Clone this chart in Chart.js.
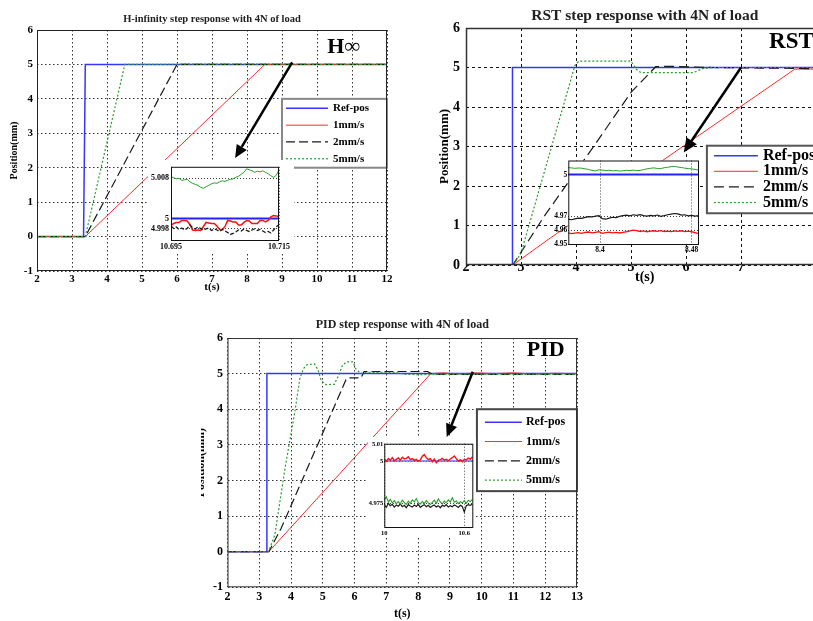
<!DOCTYPE html>
<html>
<head>
<meta charset="utf-8">
<script src="https://cdn.jsdelivr.net/npm/chart.js@4.4.1/dist/chart.umd.min.js"></script>
<style>
  html, body { margin: 0; padding: 0; background: #fff; overflow: hidden; }
  #page { position: relative; width: 813px; height: 621px; overflow: hidden; background: #fff; }
  canvas { position: absolute; }
  #pidWrap { position: absolute; left: 201px; top: 310px; width: 612px; height: 311px; overflow: hidden; }
</style>
</head>
<body>
<div id="page">
  <canvas id="hinf" width="422" height="300" style="left:0px;top:0px"></canvas>
  <canvas id="rst" width="434" height="290" style="left:426px;top:0px"></canvas>
  <div id="pidWrap"><canvas id="pid" width="423" height="311" style="left:-10px;top:0px"></canvas></div>
  <canvas id="hinfZoom" width="146" height="92" style="left:148px;top:160px"></canvas>
  <canvas id="rstZoom" width="155" height="102" style="left:548px;top:155px"></canvas>
  <canvas id="pidZoom" width="108" height="100" style="left:368px;top:437px"></canvas>
</div>
<script>
// H-infinity, main plot
const hinfRefT = [2, 3.33, 3.38, 12];
const hinfRefY = [0, 0, 5, 5];
const hinf1T = [2, 3.38, 8.51, 12];
const hinf1Y = [0, 0, 5, 5];
const hinf2T = [2, 3.38, 6.0, 12];
const hinf2Y = [0, 0, 5, 5];
const hinf5T = [2, 3.38, 4.51, 7.2, 12];
const hinf5Y = [0, 0, 5, 5.01, 5];

// RST, main plot
const rstRefT = [2, 2.84, 2.845, 8.5];
const rstRefY = [0, 0, 5, 5];
const rst1T = [2, 2.85, 3.53, 7.98, 8.5];
const rst1Y = [0, 0, 0.68, 4.96, 4.96];
const rst2T = [2, 2.85, 3.43, 4.31, 5.0, 5.45, 5.7, 6.5, 8.5];
const rst2Y = [0, 0, 1.25, 2.98, 4.37, 5.02, 5.03, 5.0, 4.97];
const rst5T = [2, 2.86, 3.0, 3.98, 4.05, 5.0, 5.1, 5.18, 6.13, 6.3, 6.5, 8.5];
const rst5Y = [0, 0, 0.3, 5.05, 5.16, 5.16, 4.95, 4.87, 4.87, 4.97, 5.0, 5.0];

// PID, main plot
const pidRefT = [2, 3.23, 3.24, 13];
const pidRefY = [0, 0, 5, 5];
const pid1T = [2, 3.3, 8.4, 8.8, 9.3, 9.8, 10.4, 11, 11.6, 12.3, 13];
const pid1Y = [0, 0, 5, 5.02, 4.99, 5.02, 5.0, 5.02, 4.99, 5.01, 5.0];
const pid2T = [2, 3.3, 3.69, 5.73, 5.8, 6.2, 6.3, 8.3, 8.45, 13];
const pid2Y = [0, 0, 0.66, 4.83, 4.88, 4.88, 5.06, 5.06, 4.98, 4.98];
const pid5T = [2, 3.29, 3.49, 3.81, 4.12, 4.28, 4.4, 4.5, 4.74, 4.85, 4.95, 5.1, 5.36, 5.5, 5.6, 5.73, 5.94, 6.05, 6.2, 6.4, 6.8, 7.2, 7.6, 8.0, 8.5, 13];
const pid5Y = [0, 0, 0.47, 2.34, 3.93, 4.87, 5.15, 5.25, 5.27, 5.1, 4.8, 4.69, 4.7, 4.95, 5.2, 5.33, 5.33, 5.12, 5.0, 5.04, 5.03, 5.04, 4.98, 4.97, 4.98, 4.98];

// zoomed insets
const hinfZoomT = [10.695, 10.6955, 10.696, 10.6965, 10.697, 10.6975, 10.698, 10.6985, 10.699, 10.6995,
  10.7, 10.7005, 10.701, 10.7015, 10.702, 10.7025, 10.703, 10.7035, 10.704, 10.7045,
  10.705, 10.7055, 10.706, 10.7065, 10.707, 10.7075, 10.708, 10.7085, 10.709, 10.7095,
  10.71, 10.7105, 10.711, 10.7115, 10.712, 10.7125, 10.713, 10.7135, 10.714, 10.7145, 10.715];
const hinfZoom1 = [4.9986, 4.9990, 4.9992, 4.9992, 4.9996, 4.9996, 4.9995, 4.9988, 4.9977, 4.9976,
  4.9977, 4.9976, 4.9984, 4.9992, 4.9991, 4.9990, 4.9990, 4.9985, 4.9978, 4.9978,
  4.9984, 4.9996, 4.9995, 4.9993, 4.9993, 4.9987, 4.9987, 4.9992, 4.9996, 4.9995,
  4.9990, 4.9990, 4.9990, 4.9996, 4.9996, 4.9993, 4.9996, 5.0003, 5.0006, 5.0005, 5.0004];
const hinfZoom2 = [4.9985, 4.9980, 4.9983, 4.9978, 4.9981, 4.9977, 4.9980, 4.9987, 4.9982, 4.9979,
  4.9983, 4.9980, 4.9977, 4.9979, 4.9981, 4.9976, 4.9979, 4.9977, 4.9974, 4.9978,
  4.9975, 4.9972, 4.9968, 4.9970, 4.9973, 4.9977, 4.9975, 4.9979, 4.9976, 4.9974,
  4.9977, 4.9979, 4.9976, 4.9978, 4.9975, 4.9972, 4.9974, 4.9971, 4.9977, 4.9983, 4.9988];
const hinfZoom5 = [5.0083, 5.0081, 5.0079, 5.0080, 5.0076, 5.0077, 5.0078, 5.0073, 5.0070, 5.0068,
  5.0066, 5.0062, 5.0060, 5.0063, 5.0066, 5.0069, 5.0071, 5.0070, 5.0073, 5.0075,
  5.0074, 5.0076, 5.0078, 5.0079, 5.0082, 5.0084, 5.0088, 5.0092, 5.0099, 5.0097,
  5.0095, 5.0092, 5.0094, 5.0093, 5.0095, 5.0092, 5.0089, 5.0085, 5.0082, 5.0086, 5.0097];
const hinfZoomRefT = [10.695, 10.715];
const hinfZoomRefY = [5, 5];

const rstZoomT = [8.372, 8.375, 8.378, 8.381, 8.384, 8.387, 8.39, 8.393, 8.396, 8.399,
  8.402, 8.405, 8.408, 8.411, 8.414, 8.417, 8.42, 8.423, 8.426, 8.429,
  8.432, 8.435, 8.438, 8.441, 8.444, 8.447, 8.45, 8.453, 8.456, 8.459,
  8.462, 8.465, 8.468, 8.471, 8.474, 8.477, 8.48, 8.483, 8.486];
const rstZoom1 = [4.9582, 4.9576, 4.9580, 4.9583, 4.9579, 4.9585, 4.9588, 4.9582, 4.9586, 4.9590,
  4.9578, 4.9583, 4.9587, 4.9582, 4.9585, 4.9581, 4.9586, 4.9590, 4.9596, 4.9602,
  4.9598, 4.9592, 4.9596, 4.9590, 4.9594, 4.9597, 4.9593, 4.9598, 4.9592, 4.9595,
  4.9591, 4.9596, 4.9593, 4.9597, 4.9591, 4.9594, 4.9590, 4.9583, 4.9576];
const rstZoom2 = [4.9680, 4.9676, 4.9682, 4.9688, 4.9686, 4.9693, 4.9698, 4.9696, 4.9702, 4.9705,
  4.9684, 4.9680, 4.9688, 4.9694, 4.9692, 4.9700, 4.9706, 4.9709, 4.9704, 4.9712,
  4.9708, 4.9713, 4.9706, 4.9702, 4.9708, 4.9704, 4.9710, 4.9701, 4.9706, 4.9712,
  4.9716, 4.9721, 4.9718, 4.9710, 4.9712, 4.9704, 4.9708, 4.9702, 4.9706];
const rstZoom5 = [5.0050, 5.0048, 5.0045, 5.0047, 5.0046, 5.0041, 5.0037, 5.0030, 5.0027, 5.0034,
  5.0032, 5.0029, 5.0031, 5.0027, 5.0029, 5.0025, 5.0027, 5.0031, 5.0028, 5.0032,
  5.0029, 5.0030, 5.0036, 5.0041, 5.0045, 5.0048, 5.0044, 5.0043, 5.0049, 5.0052,
  5.0057, 5.0059, 5.0054, 5.0051, 5.0046, 5.0043, 5.0041, 5.0037, 5.0032];
const rstZoomRefT = [8.372, 8.4864];
const rstZoomRefY = [5, 5];

const pidZoomT = [10, 10.015, 10.03, 10.045, 10.06, 10.075, 10.09, 10.105, 10.12, 10.135,
  10.15, 10.165, 10.18, 10.195, 10.21, 10.225, 10.24, 10.255, 10.27, 10.285,
  10.3, 10.315, 10.33, 10.345, 10.36, 10.375, 10.39, 10.405, 10.42, 10.435,
  10.45, 10.465, 10.48, 10.495, 10.51, 10.525, 10.54, 10.555, 10.57, 10.585,
  10.6, 10.615, 10.63, 10.645, 10.66];
const pidZoom1 = [5.0012, 4.9998, 5.0015, 5.0005, 5.0020, 5.0002, 5.0010, 5.0018, 5.0006, 5.0022,
  5.0012, 5.0016, 5.0025, 5.0008, 5.0014, 5.0004, 5.0010, 5.0000, 5.0006, 5.0028,
  5.0038, 5.0020, 5.0008, 5.0014, 4.9996, 5.0012, 4.9990, 5.0004, 5.0008, 5.0016,
  5.0006, 5.0010, 5.0002, 5.0012, 5.0020, 5.0030, 5.0014, 5.0000, 5.0008, 4.9996,
  5.0010, 5.0006, 5.0018, 5.0012, 5.0024];
const pidZoom2 = [4.9745, 4.9728, 4.9752, 4.9738, 4.9746, 4.9730, 4.9742, 4.9735, 4.9748, 4.9732,
  4.9740, 4.9726, 4.9744, 4.9736, 4.9730, 4.9742, 4.9734, 4.9746, 4.9728, 4.9738,
  4.9744, 4.9732, 4.9740, 4.9728, 4.9736, 4.9742, 4.9730, 4.9738, 4.9726, 4.9740,
  4.9734, 4.9744, 4.9730, 4.9738, 4.9732, 4.9742, 4.9736, 4.9728, 4.9740, 4.9734,
  4.9700, 4.9738, 4.9744, 4.9740, 4.9746];
const pidZoom5 = [4.9770, 4.9790, 4.9760, 4.9775, 4.9755, 4.9768, 4.9750, 4.9762, 4.9748, 4.9770,
  4.9758, 4.9745, 4.9765, 4.9752, 4.9772, 4.9760, 4.9780, 4.9756, 4.9748, 4.9762,
  4.9750, 4.9768, 4.9755, 4.9745, 4.9758, 4.9770, 4.9752, 4.9778, 4.9760, 4.9748,
  4.9765, 4.9755, 4.9772, 4.9760, 4.9784, 4.9758, 4.9766, 4.9750, 4.9762, 4.9755,
  4.9768, 4.9752, 4.9770, 4.9762, 4.9775];
const pidZoomRefT = [10, 10.6675];
const pidZoomRefY = [5, 5];

const SERIF = "'Liberation Serif', 'Times New Roman', serif";
const BLUE = "#3535ff";
const RED = "#ff2b2b";
const BLACK = "#1a1a1a";
const GREEN = "#2a9e2a";

Chart.defaults.font.family = SERIF;
Chart.defaults.color = "#000";
Chart.defaults.animation = false;
Chart.defaults.events = [];
Chart.defaults.plugins.legend.display = false;
Chart.defaults.plugins.tooltip.enabled = false;

function tocke(t, y) {
  return t.map((v, i) => ({ x: v, y: y[i] }));
}

function crta(label, t, y, color, width, dash, order) {
  return {
    label: label,
    data: tocke(t, y),
    borderColor: color,
    borderWidth: width,
    borderDash: dash,
    pointRadius: 0,
    tension: 0,
    fill: false,
    order: order,
  };
}

// frame, heading over the plot, in-plot legend, arrow and big tag
const extras = {
  id: "extras",
  beforeDraw(chart, args, o) {
    const ctx = chart.ctx;
    const a = chart.chartArea;
    ctx.save();
    ctx.fillStyle = "#fff";
    if (o.bg === "all") ctx.fillRect(0, 0, chart.width, chart.height);
    if (o.bg === "area") ctx.fillRect(a.left, a.top, a.right - a.left, a.bottom - a.top);
    ctx.restore();
  },
  afterDatasetsDraw(chart, args, o) {
    const ctx = chart.ctx;
    const a = chart.chartArea;
    const sx = chart.scales.x;
    const sy = chart.scales.y;
    ctx.save();

    if (o.heading) {
      ctx.font = "bold " + o.heading.size + "px " + SERIF;
      ctx.fillStyle = "#222";
      ctx.textAlign = "center";
      ctx.textBaseline = "middle";
      ctx.fillText(o.heading.text, (a.left + a.right) / 2, o.heading.y);
    }

    if (o.legend) {
      const lg = o.legend;
      const left = sx.getPixelForValue(lg.x1);
      const right = sx.getPixelForValue(lg.x2);
      const top = sy.getPixelForValue(lg.y2);
      const bottom = sy.getPixelForValue(lg.y1);
      ctx.fillStyle = "#fff";
      ctx.fillRect(left, top, right - left, bottom - top);
      ctx.strokeStyle = lg.border;
      ctx.lineWidth = lg.borderWidth;
      ctx.strokeRect(left, top, right - left, bottom - top);
      ctx.font = "bold " + lg.size + "px " + SERIF;
      ctx.textBaseline = "middle";
      ctx.textAlign = "left";
      chart.data.datasets.forEach((ds, i) => {
        const y = top + lg.first + i * lg.gap;
        ctx.setLineDash(ds.borderDash || []);
        ctx.strokeStyle = ds.borderColor;
        ctx.lineWidth = ds.borderWidth;
        ctx.beginPath();
        ctx.moveTo(left + lg.sx, y);
        ctx.lineTo(left + lg.sx + lg.sl, y);
        ctx.stroke();
        ctx.setLineDash([]);
        ctx.fillStyle = "#000";
        ctx.fillText(ds.label, left + lg.tx, y);
      });
    }

    if (o.tag) {
      ctx.font = "bold " + o.tag.size + "px " + SERIF;
      ctx.fillStyle = "#000";
      ctx.textBaseline = "middle";
      ctx.textAlign = "left";
      ctx.fillText(o.tag.text, sx.getPixelForValue(o.tag.x), sy.getPixelForValue(o.tag.y));
    }

    if (o.arrow) {
      const ar = o.arrow;
      const x1 = sx.getPixelForValue(ar.x1);
      const y1 = sy.getPixelForValue(ar.y1);
      const x2 = sx.getPixelForValue(ar.x2);
      const y2 = sy.getPixelForValue(ar.y2);
      const ang = Math.atan2(y2 - y1, x2 - x1);
      const bx = x2 - ar.head * Math.cos(ang);
      const by = y2 - ar.head * Math.sin(ang);
      const hw = ar.head * 0.45;
      ctx.setLineDash([]);
      ctx.strokeStyle = "#000";
      ctx.fillStyle = "#000";
      ctx.lineWidth = ar.width;
      ctx.beginPath();
      ctx.moveTo(x1, y1);
      ctx.lineTo(bx, by);
      ctx.stroke();
      ctx.beginPath();
      ctx.moveTo(x2, y2);
      ctx.lineTo(bx + hw * Math.sin(ang), by - hw * Math.cos(ang));
      ctx.lineTo(bx - hw * Math.sin(ang), by + hw * Math.cos(ang));
      ctx.closePath();
      ctx.fill();
    }

    ctx.setLineDash([]);
    ctx.strokeStyle = o.frameColor || "#000";
    ctx.lineWidth = o.frameWidth || 1;
    ctx.strokeRect(a.left + 0.5, a.top + 0.5, a.right - a.left - 1, a.bottom - a.top - 1);
    ctx.restore();
  },
};
Chart.register(extras);

function glavnaX(min, max, c) {
  return {
    type: "linear",
    min: min,
    max: max,
    afterBuildTicks: (s) => {
      s.ticks = s.ticks.filter((t) => Number.isInteger(t.value));
    },
    afterFit: (s) => {
      s.height = c.h;
    },
    ticks: {
      stepSize: 1,
      autoSkip: false,
      maxRotation: 0,
      padding: c.tickPad,
      font: { size: c.tick, weight: "bold" },
    },
    grid: { color: c.gridColor, lineWidth: 1, drawTicks: false },
    border: { display: false, dash: c.dash },
    title: {
      display: true,
      text: "t(s)",
      font: { size: c.title, weight: "bold" },
      padding: { top: 0, bottom: c.titlePad },
    },
  };
}

function glavnaY(min, max, c) {
  return {
    type: "linear",
    min: min,
    max: max,
    afterFit: (s) => {
      s.width = c.w;
    },
    ticks: {
      stepSize: 1,
      padding: c.tickPad,
      font: { size: c.tick, weight: "bold" },
    },
    grid: { color: c.gridColor, lineWidth: 1, drawTicks: false },
    border: { display: false, dash: c.dash },
    title: {
      display: true,
      text: "Position(mm)",
      font: { size: c.title, weight: "bold" },
      padding: { top: c.titlePad, bottom: 0 },
    },
  };
}

function zoomOs(min, max, ticks, size, fit, pad) {
  return {
    type: "linear",
    min: min,
    max: max,
    afterBuildTicks: (s) => {
      s.ticks = ticks.map((v) => ({ value: v }));
    },
    afterFit: fit,
    ticks: {
      autoSkip: false,
      maxRotation: 0,
      padding: pad,
      font: { size: size, weight: "bold" },
      callback: (v) => String(v),
    },
    grid: { color: "#444", lineWidth: 1, drawTicks: false },
    border: { display: false, dash: [1, 2] },
  };
}

// ---------- H-infinity ----------
new Chart(document.getElementById("hinf"), {
  type: "line",
  data: {
    datasets: [
      crta("Ref-pos", hinfRefT, hinfRefY, BLUE, 1.5, [], 4),
      crta("1mm/s", hinf1T, hinf1Y, RED, 1, [], 3),
      crta("2mm/s", hinf2T, hinf2Y, BLACK, 1.2, [9, 4], 2),
      crta("5mm/s", hinf5T, hinf5Y, GREEN, 1.2, [2, 2], 1),
    ],
  },
  options: {
    responsive: false,
    layout: { padding: { top: 30, right: 35, left: 0, bottom: 0 } },
    scales: {
      x: glavnaX(2, 12, { h: 29, tick: 11, tickPad: 2, title: 11, titlePad: 6, dash: [1.5, 2.5], gridColor: "#333" }),
      y: glavnaY(-1, 6, { w: 37, tick: 11, tickPad: 4, title: 10, titlePad: 8, dash: [1.5, 2.5], gridColor: "#333" }),
    },
    plugins: {
      extras: {
        frameColor: "#222",
        heading: { text: "H-infinity step response with 4N of load", size: 10.5, y: 19 },
        legend: { x1: 9, x2: 12, y1: 2, y2: 4, border: "#888", borderWidth: 2, first: 9.5, gap: 16.8, sx: 4, sl: 42, tx: 51, size: 11 },
        arrow: { x1: 9.29, y1: 5.06, x2: 7.66, y2: 2.28, width: 2.5, head: 13 },
        tag: { text: "H\u221E", x: 10.29, y: 5.5, size: 22 },
      },
    },
  },
});

// ---------- RST ----------
new Chart(document.getElementById("rst"), {
  type: "line",
  data: {
    datasets: [
      crta("Ref-pos", rstRefT, rstRefY, BLUE, 1.5, [], 4),
      crta("1mm/s", rst1T, rst1Y, RED, 1, [], 3),
      crta("2mm/s", rst2T, rst2Y, BLACK, 1.2, [10, 5], 2),
      crta("5mm/s", rst5T, rst5Y, GREEN, 1.2, [2, 2], 1),
    ],
  },
  options: {
    responsive: false,
    layout: { padding: { top: 28, right: 36.5, left: 0, bottom: 0 } },
    scales: {
      x: glavnaX(2, 8.5, { h: 25, tick: 14, tickPad: -6, title: 14, titlePad: 4.6, dash: [3, 3], gridColor: "#111" }),
      y: glavnaY(0, 6, { w: 40, tick: 14, tickPad: 6, title: 13, titlePad: 11, dash: [3, 3], gridColor: "#111" }),
    },
    plugins: {
      extras: {
        frameColor: "#333",
        frameWidth: 1.5,
        heading: { text: "RST step response with 4N of load", size: 15.5, y: 16 },
        legend: { x1: 6.38, x2: 8.5, y1: 1.31, y2: 3.02, border: "#555", borderWidth: 2, first: 10, gap: 15.6, sx: 7, sl: 44, tx: 56, size: 16 },
        arrow: { x1: 7.0, y1: 5.0, x2: 5.96, y2: 2.85, width: 2.5, head: 14 },
        tag: { text: "RST", x: 7.51, y: 5.64, size: 23 },
      },
    },
  },
});

// ---------- PID ----------
new Chart(document.getElementById("pid"), {
  type: "line",
  data: {
    datasets: [
      crta("Ref-pos", pidRefT, pidRefY, BLUE, 1.5, [], 4),
      crta("1mm/s", pid1T, pid1Y, RED, 1, [], 3),
      crta("2mm/s", pid2T, pid2Y, BLACK, 1.2, [9, 4], 2),
      crta("5mm/s", pid5T, pid5Y, GREEN, 1.2, [2, 2], 1),
    ],
  },
  options: {
    responsive: false,
    layout: { padding: { top: 28, right: 37, left: 0, bottom: 0 } },
    scales: {
      x: glavnaX(2, 13, { h: 33.7, tick: 12, tickPad: 2, title: 12, titlePad: 0, dash: [1.5, 2.5], gridColor: "#333" }),
      y: glavnaY(-1, 6, { w: 36.5, tick: 12, tickPad: 4.5, title: 12, titlePad: 3, dash: [1.5, 2.5], gridColor: "#333" }),
    },
    plugins: {
      extras: {
        frameColor: "#333",
        heading: { text: "PID step response with 4N of load", size: 12, y: 15 },
        legend: { x1: 9.85, x2: 13, y1: 1.7, y2: 4, border: "#444", borderWidth: 2, first: 13, gap: 19.3, sx: 8, sl: 37, tx: 49, size: 12 },
        arrow: { x1: 9.72, y1: 5.05, x2: 8.9, y2: 3.22, width: 2.5, head: 13 },
        tag: { text: "PID", x: 11.42, y: 5.66, size: 22 },
      },
    },
  },
});

// ---------- insets ----------
new Chart(document.getElementById("hinfZoom"), {
  type: "line",
  data: {
    datasets: [
      crta("Ref-pos", hinfZoomRefT, hinfZoomRefY, "#2222ff", 2, [], 4),
      crta("1mm/s", hinfZoomT, hinfZoom1, "#ff1010", 1.5, [], 3),
      crta("2mm/s", hinfZoomT, hinfZoom2, BLACK, 1.3, [4, 2], 2),
      crta("5mm/s", hinfZoomT, hinfZoom5, GREEN, 1, [], 1),
    ],
  },
  options: {
    responsive: false,
    layout: { padding: { top: 5, right: 15, left: 0, bottom: 0 } },
    scales: {
      x: zoomOs(10.695, 10.715, [10.695, 10.715], 8, (s) => { s.height = 11; }, 1),
      y: zoomOs(4.9955, 5.0103, [4.998, 5, 5.008], 8, (s) => { s.width = 23; }, 2),
    },
    plugins: { extras: { bg: "all", frameColor: "#111" } },
  },
});

new Chart(document.getElementById("rstZoom"), {
  type: "line",
  data: {
    datasets: [
      crta("Ref-pos", rstZoomRefT, rstZoomRefY, "#2222ff", 2, [], 4),
      crta("1mm/s", rstZoomT, rstZoom1, "#ff1010", 1.3, [], 3),
      crta("2mm/s", rstZoomT, rstZoom2, BLACK, 1.2, [], 2),
      crta("5mm/s", rstZoomT, rstZoom5, GREEN, 1, [], 1),
    ],
  },
  options: {
    responsive: false,
    layout: { padding: { top: 3.3, right: 4, left: 0, bottom: 0 } },
    scales: {
      x: zoomOs(8.3723, 8.4864, [8.4, 8.48], 7.5, (s) => { s.height = 12; }, 1),
      y: zoomOs(4.9495, 5.0101, [4.95, 4.96, 4.97, 5], 7.5, (s) => { s.width = 20.3; }, 1),
    },
    plugins: { extras: { bg: "area", frameColor: "#111" } },
  },
});

new Chart(document.getElementById("pidZoom"), {
  type: "line",
  data: {
    datasets: [
      crta("Ref-pos", pidZoomRefT, pidZoomRefY, "#6a6aff", 1.5, [], 4),
      crta("1mm/s", pidZoomT, pidZoom1, "#ff1010", 1.4, [], 3),
      crta("2mm/s", pidZoomT, pidZoom2, BLACK, 1.2, [], 2),
      crta("5mm/s", pidZoomT, pidZoom5, GREEN, 1.1, [], 1),
    ],
  },
  options: {
    responsive: false,
    layout: { padding: { top: 6.7, right: 2.7, left: 0, bottom: 0 } },
    scales: {
      x: zoomOs(10, 10.6675, [10, 10.6], 6.5, (s) => { s.height = 9; }, 1),
      y: zoomOs(4.9607, 5.0102, [4.975, 5, 5.01], 6.5, (s) => { s.width = 16.3; }, 1),
    },
    plugins: { extras: { bg: "all", frameColor: "#111" } },
  },
});
</script>
</body>
</html>
